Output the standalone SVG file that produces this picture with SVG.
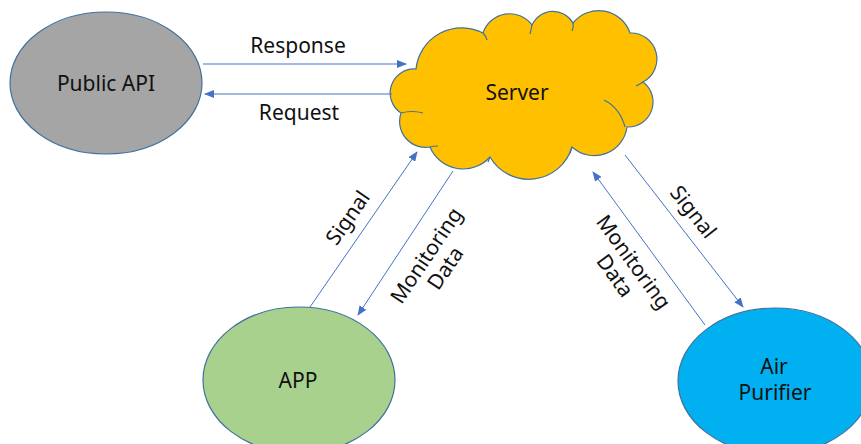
<svg xmlns="http://www.w3.org/2000/svg" width="861" height="444" viewBox="0 0 861 444">
<defs>
<marker id="ah" markerWidth="10" markerHeight="8" refX="9" refY="4" orient="auto" markerUnits="userSpaceOnUse">
<path d="M0,0 L10,4 L0,8 Z" fill="#4472c4"/>
</marker>
<style>
.node{stroke:#41719c;stroke-width:1.2}
.lbl{font-family:"Noto Sans","Open Sans","Liberation Sans",sans-serif;font-size:21px;fill:#111;text-anchor:middle}
.conn{stroke:#4472c4;stroke-width:1;fill:none;marker-end:url(#ah)}
.inner{stroke:#41719c;stroke-width:1.2;fill:none}
</style>
</defs>
<rect width="861" height="444" fill="#fff"/>
<g id="public-api">
<ellipse class="node" cx="106" cy="83" rx="96" ry="71" fill="#a5a5a5"/>
<text class="lbl" x="106" y="91">Public API</text>
</g>
<g id="server">
<path class="node" fill="#ffc000" d="M416,69 A46,46 0 0 1 483,33 A28,28 0 0 1 532,25 A23,23 0 0 1 573,23 A33,33 0 0 1 630,33 A26,26 0 0 1 643,82 A25,25 0 0 1 627,127 A33,33 0 0 1 572,147 A45,45 0 0 1 490,157 A36,36 0 0 1 430,147 A26,26 0 0 1 401,113 A24,24 0 0 1 416,69 Z"/>
<path class="inner" d="M401,113 Q412,110 423,113"/>
<path class="inner" d="M483,33 Q486,36 487,40"/>
<path class="inner" d="M532,25 Q531,30 530,34"/>
<path class="inner" d="M573,23 Q574,27 572,31"/>
<path class="inner" d="M643,82 Q640,84 636,86"/>
<path class="inner" d="M604,100 Q620,108 625,127"/>
<path class="inner" d="M572,147 Q571,150 570,153"/>
<path class="inner" d="M490,157 Q489,159 488,162"/>
<path class="inner" d="M430,147 Q434,146 438,146"/>
<text class="lbl" x="517" y="100">Server</text>
</g>
<g id="app">
<ellipse class="node" cx="299" cy="380" rx="96" ry="73" fill="#a9d18e"/>
<text class="lbl" x="298" y="388">APP</text>
</g>
<g id="air-purifier">
<ellipse class="node" cx="775" cy="381" rx="97" ry="73" fill="#00b0f0"/>
<text class="lbl" x="774" y="374">Air</text>
<text class="lbl" x="775" y="400">Purifier</text>
</g>
<g id="connectors">
<line class="conn" x1="203" y1="64" x2="406" y2="64"/>
<line class="conn" x1="392" y1="94" x2="205" y2="94"/>
<line class="conn" x1="310" y1="307" x2="417" y2="152"/>
<line class="conn" x1="453" y1="171" x2="358" y2="315"/>
<line class="conn" x1="625" y1="155" x2="743" y2="307"/>
<line class="conn" x1="705" y1="325" x2="593" y2="172"/>
<text class="lbl" x="298" y="53">Response</text>
<text class="lbl" x="299" y="120">Request</text>
<g transform="translate(348,218) rotate(-55)"><text class="lbl" x="0" y="7">Signal</text></g>
<g transform="translate(436,262) rotate(-56)"><text class="lbl" x="0" y="-4.5">Monitoring</text><text class="lbl" x="0" y="18.5">Data</text></g>
<g transform="translate(693,212) rotate(52)"><text class="lbl" x="0" y="7">Signal</text></g>
<g transform="translate(624,269) rotate(54)"><text class="lbl" x="0" y="-4.5">Monitoring</text><text class="lbl" x="0" y="18.5">Data</text></g>
</g>
</svg>
